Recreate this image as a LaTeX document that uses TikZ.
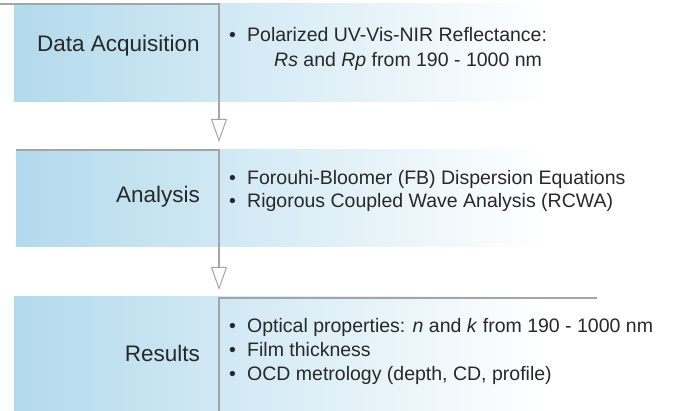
\documentclass[tikz,border=0pt]{standalone}
\usepackage{fontspec}
\setmainfont{Liberation Sans}
\usetikzlibrary{arrows.meta}
\definecolor{bandblue}{RGB}{178,218,236}
\definecolor{linegray}{RGB}{165,165,165}
\definecolor{textgray}{RGB}{40,40,40}
\begin{document}
\begin{tikzpicture}[x=1pt,y=-1pt,
  band/.style={draw=none, inner sep=0pt, outer sep=0pt, anchor=north west,
    left color=bandblue, right color=white},
  head/.style={anchor=base east, inner sep=0pt, text=textgray,
    font=\fontsize{22.5}{27}\selectfont},
  item/.style={anchor=base west, inner sep=0pt, text=textgray,
    font=\fontsize{19.5}{24}\selectfont},
  flow/.style={draw=linegray, line width=1.4pt},
  tipped/.style={-{Triangle[open, length=23pt, width=16pt, line width=1pt]}}
]
\useasboundingbox (0,0) rectangle (689,411);

% bands
\node[band, minimum width=531pt, minimum height=98pt] (band1) at (14,4) {};
\node[band, minimum width=529pt, minimum height=97pt] (band2) at (16,150) {};
\node[band, minimum width=531pt, minimum height=114pt] (band3) at (14,297) {};

% headings
\node[head] (h1) at (200,52) {Data Acquisition};
\node[head] (h2) at (200,203) {Analysis};
\node[head] (h3) at (200,362) {Results};

% items
\node[item] (i1a) at (229,42) {\makebox[18pt][l]{•}Polarized UV-Vis-NIR Reflectance:};
\node[item] (i1b) at (274,67) {\textit{Rs} and \textit{Rp} from 190 - 1000 nm};
\node[item] (i2a) at (229,185) {\makebox[18pt][l]{•}Forouhi-Bloomer (FB) Dispersion Equations};
\node[item] (i2b) at (229,208) {\makebox[18pt][l]{•}Rigorous Coupled Wave Analysis (RCWA)};
\node[item] (i3a) at (229,333) {\makebox[18pt][l]{•}Optical properties: \textit{n} and \textit{k} from 190 - 1000 nm};
\node[item] (i3b) at (229,357) {\makebox[18pt][l]{•}Film thickness};
\node[item] (i3c) at (229,381) {\makebox[18pt][l]{•}OCD metrology (depth, CD, profile)};

% connectors
\coordinate (s1) at (0,4);
\coordinate (k1) at (219,4);
\coordinate (t1) at (219,142);
\coordinate (s2) at (16,150);
\coordinate (k2) at (219,150);
\coordinate (t2) at (219,290);
\coordinate (s3) at (219,411);
\coordinate (k3) at (219,298);
\coordinate (e3) at (597,298);

\draw[flow, tipped] (s1) -- (k1) -- (t1);
\draw[flow, tipped] (s2) -- (k2) -- (t2);
\draw[flow] (s3) -- (k3) -- (e3);
\end{tikzpicture}
\end{document}
